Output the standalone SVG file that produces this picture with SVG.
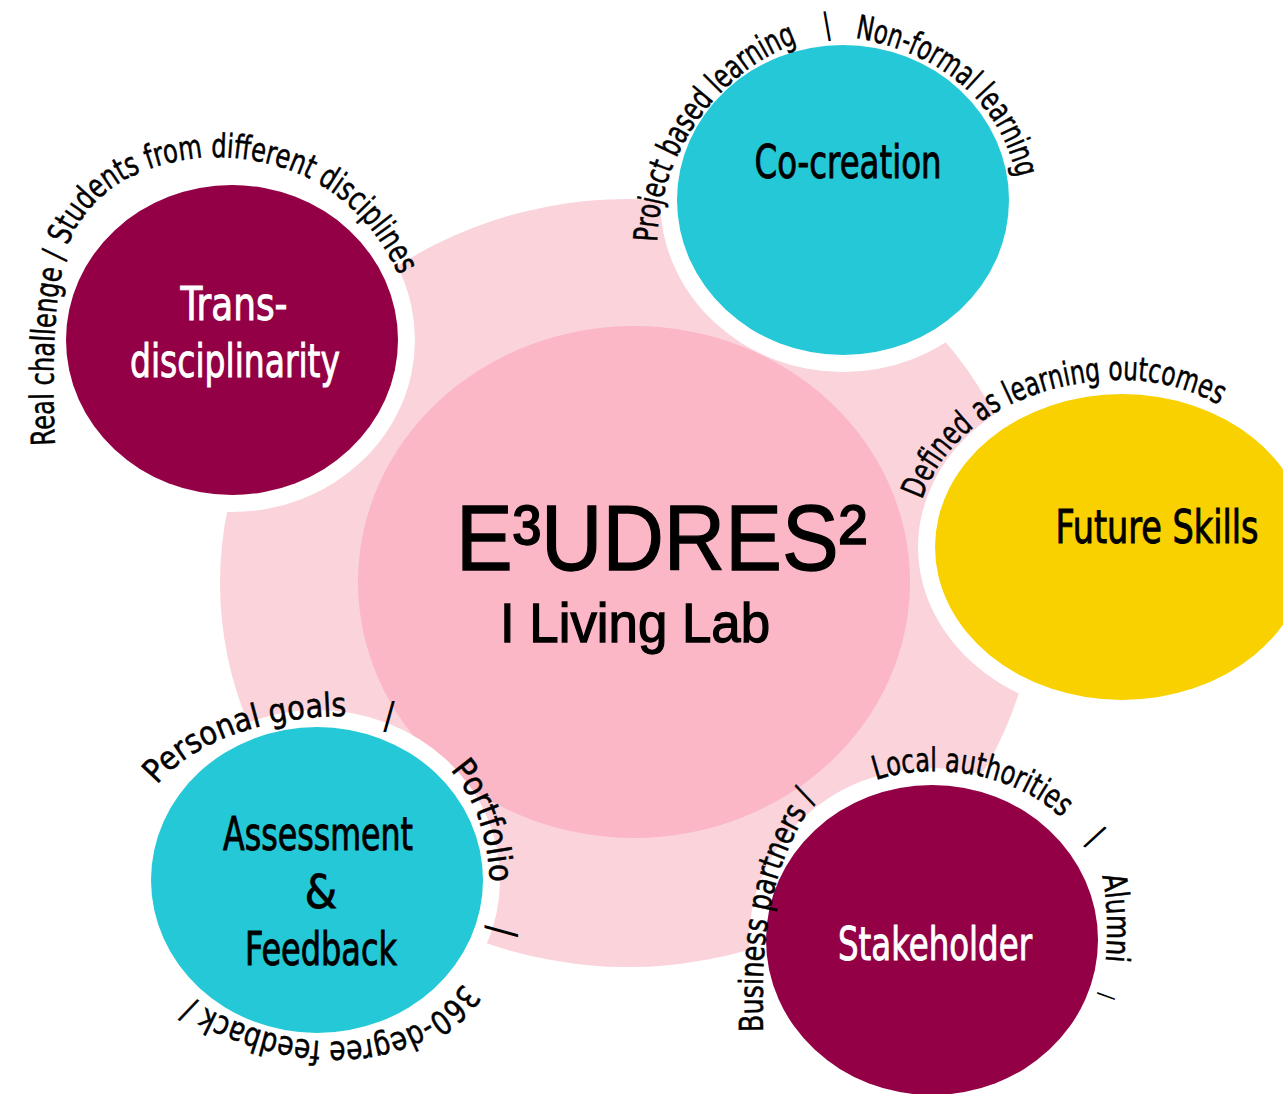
<svg xmlns="http://www.w3.org/2000/svg" width="1283" height="1094" viewBox="0 0 1283 1094">
<style>
.arc{font-family:"DejaVu Sans Condensed","DejaVu Sans","Liberation Sans",sans-serif;font-stretch:condensed;font-size:33px;fill:#000;stroke:#000;stroke-width:0.5px}
.sep{font-family:"DejaVu Sans Condensed","DejaVu Sans","Liberation Sans",sans-serif;font-stretch:condensed;fill:#000;text-anchor:middle}
.lbl{font-family:"DejaVu Sans Condensed","DejaVu Sans","Liberation Sans",sans-serif;font-stretch:condensed;font-size:46px;text-anchor:middle;stroke-width:0.9px}
.dark{fill:#000;stroke:#000}
.light{fill:#fff;stroke:#fff}
.ring{fill:#fff}
.mag{fill:#930045}
.cyan{fill:#25C8D7}
.yel{fill:#F9D100}
.title{font-family:"Liberation Sans",Arial,sans-serif;fill:#000;stroke:#000;stroke-width:1.3px}
</style>
<defs>
<path id="p1" d="M 55 445 C 52 380, 52 300, 68 245 C 90 190, 140 162, 210 157 C 300 157, 370 200, 405 290"/>
<path id="p2" d="M 657 242 C 660 150, 720 70, 800 42"/>
<path id="p3" d="M 855 38 C 930 50, 1000 95, 1017 180"/>
<path id="p4" d="M 922 500 C 950 420, 1030 385, 1110 380 C 1160 378, 1200 392, 1230 412"/>
<path id="p5" d="M 157 785 C 190 745, 260 715, 352 716"/>
<path id="p6" d="M 450 770 C 472 795, 488 830, 490 885"/>
<path id="p7" d="M 463 983 C 420 1050, 300 1068, 180 993"/>
<path id="p8" d="M 763 1032 C 762 960, 760 880, 818 795"/>
<path id="p9" d="M 876 780 C 930 762, 1010 770, 1062 818"/>
<path id="p10" d="M 1102 876 C 1108 900, 1108 940, 1105 968"/>
</defs>

<g id="background">
<ellipse cx="628" cy="583" rx="408" ry="384" fill="#FAD3DB"/>
</g>

<g id="connectors"></g>

<g id="center">
<ellipse cx="634" cy="582" rx="276" ry="256" fill="#FBB7C5"/>
<text class="title" x="456" y="570" font-size="93" textLength="411" lengthAdjust="spacingAndGlyphs">E³UDRES²</text>
<text class="title" x="500" y="642" font-size="55" textLength="270" lengthAdjust="spacingAndGlyphs">I Living Lab</text>
</g>

<g id="node-trans">
<ellipse class="ring" cx="232" cy="340" rx="183" ry="172"/>
<ellipse class="mag" cx="232" cy="340" rx="166" ry="155"/>
<text class="lbl light" x="234" y="320" textLength="107" lengthAdjust="spacingAndGlyphs">Trans-</text>
<text class="lbl light" x="235" y="377" textLength="210" lengthAdjust="spacingAndGlyphs">disciplinarity</text>
<text class="arc"><textPath href="#p1" textLength="615" lengthAdjust="spacingAndGlyphs">Real challenge /  Students from different disciplines</textPath></text>
</g>

<g id="node-cocreation">
<ellipse class="ring" cx="843" cy="200" rx="183" ry="172"/>
<ellipse class="cyan" cx="843" cy="200" rx="166" ry="155"/>
<text class="lbl dark" x="848" y="178" textLength="187" lengthAdjust="spacingAndGlyphs">Co-creation</text>
<text class="arc"><textPath href="#p2" textLength="258" lengthAdjust="spacingAndGlyphs">Project based learning</textPath></text>
<text class="sep" x="827" y="34" font-size="30" transform="rotate(-10 827 25)">|</text>
<text class="arc"><textPath href="#p3" textLength="228" lengthAdjust="spacingAndGlyphs">Non-formal learning</textPath></text>
</g>

<g id="node-futureskills">
<ellipse class="ring" cx="1122" cy="547" rx="204" ry="170"/>
<ellipse class="yel" cx="1122" cy="547" rx="187" ry="153"/>
<text class="lbl dark" x="1157" y="543" textLength="203" lengthAdjust="spacingAndGlyphs">Future Skills</text>
<text class="arc"><textPath href="#p4" textLength="350" lengthAdjust="spacingAndGlyphs">Defined as learning outcomes</textPath></text>
</g>

<g id="node-assessment">
<ellipse class="ring" cx="317" cy="880" rx="183" ry="170"/>
<ellipse class="cyan" cx="317" cy="880" rx="166" ry="153"/>
<text class="lbl dark" x="318" y="850" textLength="190" lengthAdjust="spacingAndGlyphs">Assessment</text>
<text class="lbl dark" x="321" y="908">&amp;</text>
<text class="lbl dark" x="321" y="965" textLength="152" lengthAdjust="spacingAndGlyphs">Feedback</text>
<text class="arc"><textPath href="#p5" textLength="208" lengthAdjust="spacingAndGlyphs">Personal goals</textPath></text>
<text class="sep" x="389" y="728" font-size="38">/</text>
<text class="arc"><textPath href="#p6" textLength="122" lengthAdjust="spacingAndGlyphs">Portfolio</textPath></text>
<text class="sep" x="500" y="943" font-size="40" transform="rotate(90 500 931)">/</text>
<text class="arc"><textPath href="#p7" textLength="300" lengthAdjust="spacingAndGlyphs">360-degree feedback /</textPath></text>
</g>

<g id="node-stakeholder">
<ellipse class="ring" cx="932" cy="940" rx="183" ry="172"/>
<ellipse class="mag" cx="932" cy="940" rx="166" ry="155"/>
<text class="lbl light" x="935" y="960" textLength="194" lengthAdjust="spacingAndGlyphs">Stakeholder</text>
<text class="arc"><textPath href="#p8" textLength="245" lengthAdjust="spacingAndGlyphs">Business partners /</textPath></text>
<text class="arc"><textPath href="#p9" textLength="198" lengthAdjust="spacingAndGlyphs">Local authorities</textPath></text>
<text class="sep" x="1095" y="848" font-size="34" transform="rotate(32 1095 837)">/</text>
<text class="arc"><textPath href="#p10" textLength="86" lengthAdjust="spacingAndGlyphs">Alumni</textPath></text>
<text class="sep" x="1106" y="1003" font-size="22" transform="rotate(94 1106 996)">/</text>
</g>
</svg>
